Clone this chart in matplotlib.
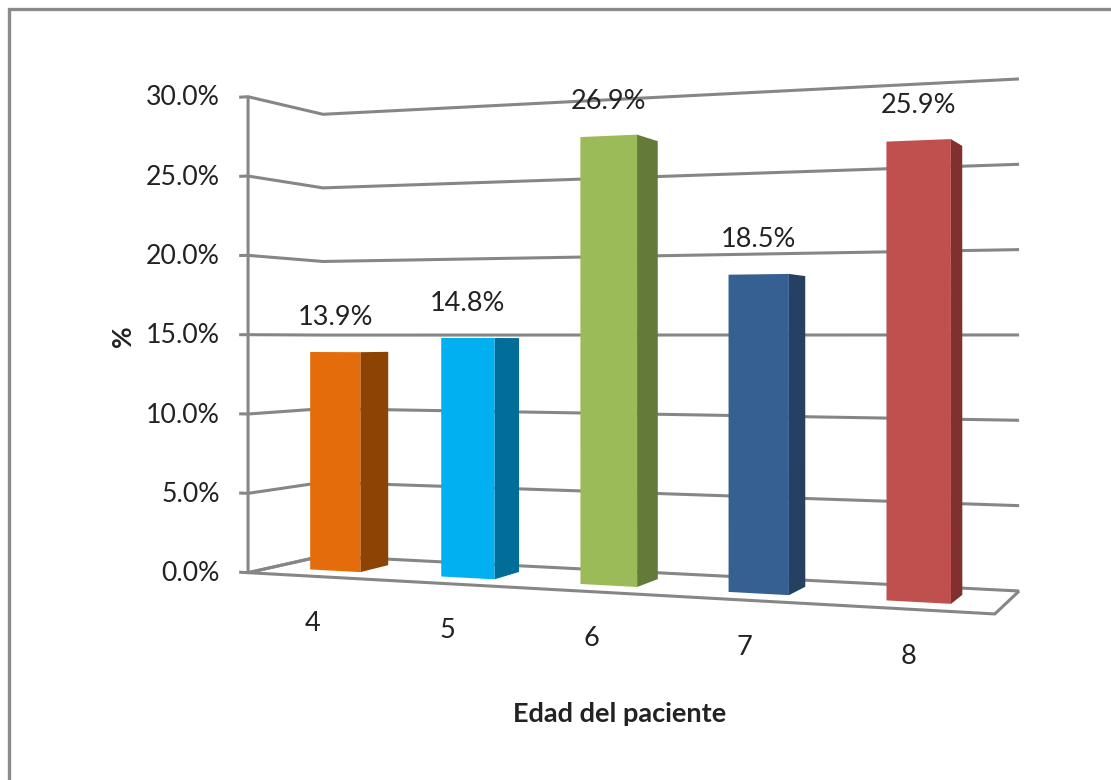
import numpy as np
import matplotlib
matplotlib.use("Agg")
import matplotlib.pyplot as plt

# ---- data ----
categories = ["4", "5", "6", "7", "8"]
values = [13.9, 14.8, 26.9, 18.5, 25.9]
value_labels = ["13.9%", "14.8%", "26.9%", "18.5%", "25.9%"]
y_ticks = [0, 5, 10, 15, 20, 25, 30]
y_tick_labels = ["0.0%", "5.0%", "10.0%", "15.0%", "20.0%", "25.0%", "30.0%"]
front_colors = ["#E46C0A", "#00B0F0", "#9BBB59", "#376092", "#C0504D"]
side_colors = ["#8C4303", "#006E99", "#647A38", "#254062", "#7F302F"]
x_title = "Edad del paciente"
y_title = "%"

GRID = "#868686"
TEXT = "#222222"
FONT = "Lato"

# ---- perspective scale: (category position, depth, value) -> picture ----
# calibration of the chart box corners on the picture
world = [(0, 0, 0), (5, 0, 0), (0, 1, 0), (5, 1, 0), (0, 0, 30), (0, 1, 30), (5, 1, 30)]
screen = [(248, 571.5), (995, 615), (323, 557), (1019, 590), (248, 97), (323, 114), (1019, 79)]
rows = []
for (u, d, v), (x, y) in zip(world, screen):
    p = [u, d, v, 1]
    rows.append(p + [0, 0, 0, 0] + [-x * c for c in p])
    rows.append([0, 0, 0, 0] + p + [-y * c for c in p])
P = np.linalg.svd(np.array(rows, float))[2][-1].reshape(3, 4)


def project(u, d, v):
    h = P @ np.array([u, d, v, 1.0])
    return h[0] / h[2], h[1] / h[2]


fig = plt.figure(figsize=(11.11, 7.8), dpi=100)
ax = fig.add_axes([0, 0, 1, 1])
ax.set_xlim(0, 1111)
ax.set_ylim(780, 0)
ax.axis("off")

# outer frame
ax.plot([9, 9, 1111], [780, 9, 9], color="#8A8A8A", lw=2.4, zorder=1, solid_joinstyle="miter")


def line(points, lw=2.2, z=2):
    xs, ys = zip(*[project(*p) for p in points])
    ax.plot(xs, ys, color=GRID, lw=lw, zorder=z, solid_joinstyle="round", solid_capstyle="butt")


n = len(categories)
for t, lab in zip(y_ticks, y_tick_labels):
    line([(-0.07, 0, t), (0, 0, t), (0, 1, t), (n, 1, t)])
    x, y = project(0, 0, t)
    ax.text(x - 28, y + 1, lab, ha="right", va="center", fontsize=19.2, family=FONT, color=TEXT)

line([(0, 0, 0), (0, 0, 30)])
line([(0, 1, 0), (0, 0, 0), (n, 0, 0), (n, 1, 0)])

# ---- bars ----
half, d0, d1 = 0.195, 0.30, 0.70
for i, (val, lab, cat, fc, sc) in enumerate(zip(values, value_labels, categories, front_colors, side_colors)):
    c = i + 0.5
    l, r = c - half, c + half
    front = [project(l, d0, 0), project(r, d0, 0), project(r, d0, val), project(l, d0, val)]
    side = [project(r, d0, 0), project(r, d1, 0), project(r, d1, val), project(r, d0, val)]
    ax.fill(*zip(*side), color=sc, lw=0, zorder=4)
    ax.fill(*zip(*front), color=fc, lw=0, zorder=5)
    x, y = project(c, d0, val)
    ax.text(x, y - 34.5, lab, ha="center", va="center", fontsize=19.5, family=FONT, color=TEXT, zorder=6)
    x, y = project(c, 0, 0)
    ax.text(x, y + 47, cat, ha="center", va="center", fontsize=19.5, family=FONT, color=TEXT, zorder=6)

ax.text(620, 714, x_title, ha="center", va="center", fontsize=19.5, fontweight="bold", family=FONT, color=TEXT)
ax.text(123, 336, y_title, ha="center", va="center", rotation=90, fontsize=19, fontweight="bold", family=FONT, color=TEXT)

fig.savefig("out.png", dpi=100)
